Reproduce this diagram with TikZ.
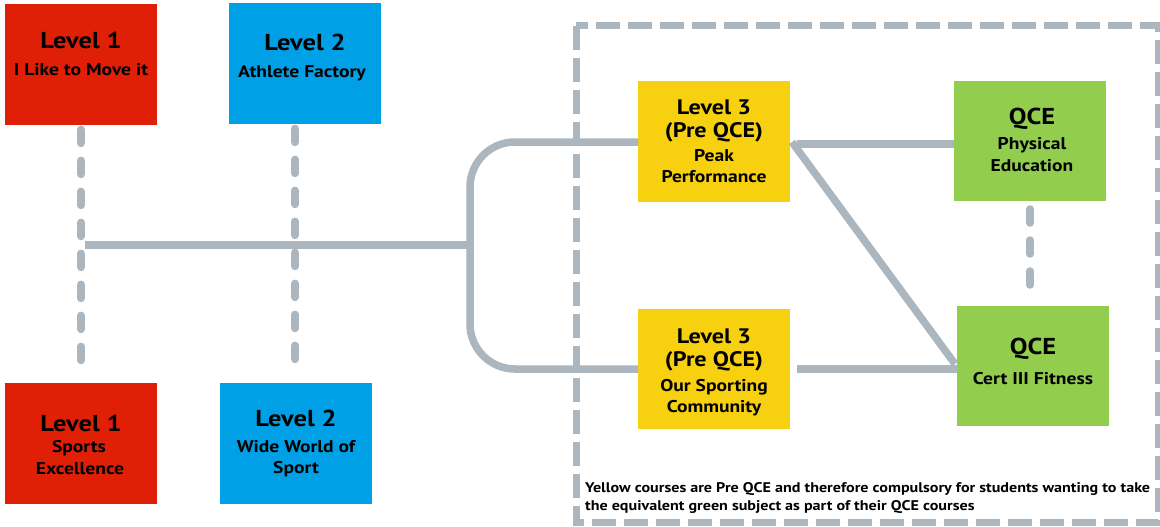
\documentclass[tikz,border=0pt]{standalone}
\usepackage{fontspec}
\setmainfont{PT Sans}[FakeStretch=1.15]
\begin{document}
\begin{tikzpicture}[x=1pt,y=-1pt,
  box/.style={draw=none,inner sep=0pt,minimum width=152pt,minimum height=121pt,anchor=north west},
  ttl/.style={font=\bfseries\fontsize{23}{25}\selectfont,inner sep=0pt},
  ttlb/.style={font=\bfseries\fontsize{21}{23}\selectfont,inner sep=0pt},
  sub/.style={font=\bfseries\fontsize{17}{19}\selectfont,inner sep=0pt},
  conn/.style={draw=lineg,line width=7.5pt},
  dconn/.style={draw=lineg,line width=7.5pt,line cap=round,dash pattern=on 14pt off 17pt},
  border/.style={draw=lineg,line width=7pt,dash pattern=on 24pt off 8pt}
]
\definecolor{lineg}{HTML}{ABB6BE}
\definecolor{cred}{HTML}{DF2006}
\definecolor{cblue}{HTML}{00A0E6}
\definecolor{cyel}{HTML}{F7D10F}
\definecolor{cgreen}{HTML}{92CD4E}
\useasboundingbox (0,0) rectangle (1160,527);

% dashed border
\draw[border] (576,26) rectangle (1158,522);

% boxes
\node[box,fill=cred] (r1) at (5,4) {};
\node[box,fill=cblue] (b1) at (229,3) {};
\node[box,fill=cred] (r2) at (5,383) {};
\node[box,fill=cblue] (b2) at (220,383) {};
\node[box,fill=cyel] (y1) at (638,81) {};
\node[box,fill=cyel,minimum height=120pt] (y2) at (638,309) {};
\node[box,fill=cgreen,minimum height=120pt] (g1) at (954,81) {};
\node[box,fill=cgreen,minimum height=120pt] (g2) at (957,306) {};

% connectors
\coordinate (h1) at (85,245);
\coordinate (hb) at (470,245);
\draw[dconn] (r1.south -| 81,0) ++(0,4) coordinate (d1s) -- (81,372) coordinate (d1e);
\draw[dconn] (b1.south -| 295,0) ++(0,4) coordinate (d2s) -- (295,370) coordinate (d2e);
\draw[conn] (h1) -- (hb);
\draw[conn,rounded corners=45pt] (y1.west |- 0,142) -- (470,142) -- (470,369) -- (y2.west |- 0,369);
\draw[conn] (797,144) coordinate (a1) -- (g1.west |- 0,144);
\draw[conn] (797,369) coordinate (a2) -- (g2.west |- 0,369);
\draw[conn] (792,142) coordinate (a3) -- (955,364) coordinate (a4);
\draw[dconn] (1030,209) coordinate (gv1) -- (1030,299) coordinate (gv2);

% texts
\node[ttl] (t1) at (81,40) {Level 1};
\node[sub] (t1s) at (81,70) {I Like to Move it};
\node[ttl] (t2) at (305,42) {Level 2};
\node[sub] (t2s) at (302,73) {Athlete Factory};
\node[ttl] (t3) at (81,423) {Level 1};
\node[sub] (t3s) at (79,448) {Sports};
\node[sub] (t3t) at (80,469) {Excellence};
\node[ttl] (t4) at (296,418) {Level 2};
\node[sub] (t4s) at (296,447) {Wide World of};
\node[sub] (t4t) at (296,469) {Sport};

\node[ttlb] (t5) at (714,107) {Level 3};
\node[ttlb] (t5a) at (714,132) {(Pre QCE)};
\node[sub] (t5b) at (714,156) {Peak};
\node[sub] (t5c) at (714,177) {Performance};

\node[ttlb] (t6) at (714,336) {Level 3};
\node[ttlb] (t6a) at (714,361) {(Pre QCE)};
\node[sub] (t6b) at (714,387) {Our Sporting};
\node[sub] (t6c) at (714,408) {Community};

\node[ttl] (t7) at (1032,119) {QCE};
\node[sub] (t7a) at (1032,145) {Physical};
\node[sub] (t7b) at (1032,166) {Education};

\node[ttl] (t8) at (1033,349) {QCE};
\node[sub] (t8a) at (1033,379) {Cert III Fitness};

\node[font=\bfseries\fontsize{14}{18}\selectfont,inner sep=0pt,align=left,anchor=north west] (fn) at (585,482)
 {Yellow courses are Pre QCE and therefore compulsory for students wanting to take\\the equivalent green subject as part of their QCE courses};
\end{tikzpicture}
\end{document}
